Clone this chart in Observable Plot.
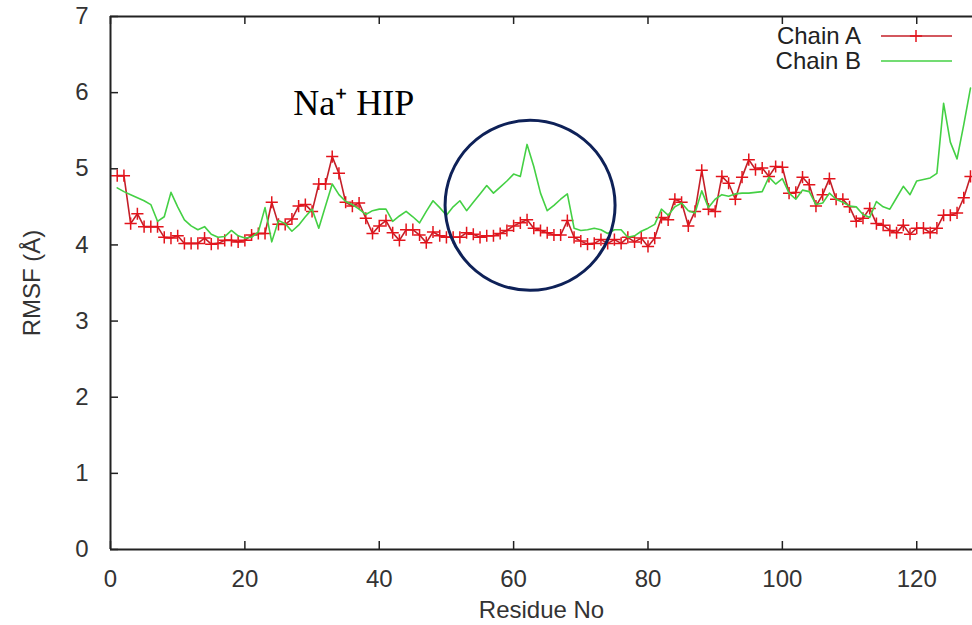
<!DOCTYPE html>
<html>
<head>
<meta charset="utf-8">
<script src="https://cdn.jsdelivr.net/npm/d3@7"></script>
<script src="https://cdn.jsdelivr.net/npm/@observablehq/plot@0.6"></script>
<style>
  html, body { margin: 0; padding: 0; background: #fff; }
  #chart { width: 972px; height: 625px; }
</style>
</head>
<body>
<div id="chart"></div>
<script>
// ---- data ----
const residues = d3.range(1, 129);
const chainA = [
  4.91, 4.91, 4.28, 4.41, 4.24, 4.24, 4.24, 4.10, 4.09, 4.12,
  4.02, 4.02, 4.02, 4.09, 4.01, 4.02, 4.06, 4.06, 4.04, 4.06,
  4.13, 4.15, 4.15, 4.56, 4.27, 4.27, 4.34, 4.51, 4.53, 4.44,
  4.80, 4.80, 5.16, 4.94, 4.56, 4.51, 4.55, 4.35, 4.15, 4.25,
  4.32, 4.16, 4.06, 4.20, 4.20, 4.13, 4.03, 4.17, 4.12, 4.10,
  4.10, 4.10, 4.16, 4.14, 4.10, 4.12, 4.12, 4.15, 4.19, 4.25,
  4.29, 4.33, 4.22, 4.19, 4.16, 4.13, 4.13, 4.32, 4.10, 4.05,
  4.01, 4.02, 4.07, 4.02, 4.07, 4.02, 4.10, 4.04, 4.09, 3.98,
  4.09, 4.36, 4.33, 4.60, 4.56, 4.25, 4.44, 4.98, 4.47, 4.44,
  4.90, 4.81, 4.60, 4.89, 5.12, 4.99, 5.01, 4.90, 5.03, 5.02,
  4.68, 4.69, 4.89, 4.79, 4.51, 4.66, 4.87, 4.60, 4.60, 4.50,
  4.31, 4.35, 4.48, 4.28, 4.26, 4.19, 4.16, 4.26, 4.14, 4.22,
  4.22, 4.16, 4.22, 4.39, 4.39, 4.42, 4.62, 4.90
];
const chainB = [
  4.75, 4.70, 4.66, 4.62, 4.58, 4.53, 4.31, 4.37, 4.69, 4.50,
  4.33, 4.25, 4.20, 4.24, 4.14, 4.10, 4.11, 4.19, 4.12, 4.09,
  4.10, 4.17, 4.49, 4.04, 4.32, 4.28, 4.18, 4.26, 4.37, 4.47,
  4.22, 4.51, 4.80, 4.66, 4.57, 4.53, 4.47, 4.40, 4.45, 4.47,
  4.47, 4.31, 4.38, 4.44, 4.37, 4.29, 4.44, 4.58, 4.49, 4.39,
  4.50, 4.58, 4.45, 4.56, 4.67, 4.78, 4.68, 4.76, 4.84, 4.93,
  4.90, 5.32, 5.03, 4.68, 4.45, 4.52, 4.60, 4.67, 4.22, 4.19,
  4.20, 4.22, 4.20, 4.15, 4.20, 4.20, 4.10, 4.12, 4.18, 4.22,
  4.27, 4.47, 4.39, 4.50, 4.55, 4.45, 4.42, 4.71, 4.49, 4.60,
  4.66, 4.64, 4.67, 4.68, 4.68, 4.69, 4.70, 4.89, 4.80, 4.87,
  4.68, 4.60, 4.72, 4.70, 4.53, 4.55, 4.68, 4.60, 4.56, 4.51,
  4.50, 4.40, 4.36, 4.57, 4.50, 4.47, 4.62, 4.77, 4.66, 4.84,
  4.86, 4.88, 4.94, 5.86, 5.35, 5.13, 5.58, 6.06
];
const seriesNames = ["Chain A", "Chain B"];
const xTicks = [0, 20, 40, 60, 80, 100, 120];
const yTicks = [0, 1, 2, 3, 4, 5, 6, 7];
const xLabel = "Residue No";
const yLabel = "RMSF (Å)";
const noteText = "Na⁺ HIP";

// ---- styling / layout ----
const W = 972, H = 625;
const mL = 110, mR = 0, mT = 16, mB = 76;
const innerW = W - mL - mR, innerH = H - mT - mB;
const frameColor = "#222";
const redLine = "#c41f28", redMark = "#e3141c", green = "#44d044", navy = "#0e2158";
const sans = "'Liberation Sans', Arial, sans-serif";
const fs = 24;

const dataA = residues.map((r, i) => ({r, v: chainA[i]}));
const dataB = residues.map((r, i) => ({r, v: chainB[i]}));
const note = [{x: 27.2, y: 5.86, text: noteText}];
const ring = [{x: 62.45, y: 4.52}];

const chart = Plot.plot({
  width: W, height: H,
  marginLeft: mL, marginRight: mR, marginTop: mT, marginBottom: mB,
  x: {domain: [0, 128.3]},
  y: {domain: [0, 7]},
  style: {fontFamily: sans, fontSize: fs + "px", background: "#fff", color: "#333"},
  marks: [
    Plot.axisX({ticks: xTicks, tickFormat: d => String(d), tickSize: 0, tickPadding: 20, label: null, fontSize: fs, fill: "#333"}),
    Plot.axisY({ticks: yTicks, tickFormat: d => String(d), tickSize: 0, tickPadding: 22, label: null, fontSize: fs, fill: "#333"}),
    Plot.tickX(xTicks, {x: d => d, insetTop: innerH - 8, stroke: frameColor, strokeWidth: 1.5}),
    Plot.tickX(xTicks, {x: d => d, insetBottom: innerH - 8, stroke: frameColor, strokeWidth: 1.5}),
    Plot.tickY(yTicks, {y: d => d, insetRight: innerW - 8, stroke: frameColor, strokeWidth: 1.5}),
    Plot.line(dataA, {x: "r", y: "v", stroke: redLine, strokeWidth: 1.6}),
    Plot.dot(dataA, {x: "r", y: "v", symbol: "plus", r: 4, stroke: redMark, strokeWidth: 1.5}),
    Plot.line(dataB, {x: "r", y: "v", stroke: green, strokeWidth: 1.6}),
    Plot.ruleX([0], {stroke: frameColor, strokeWidth: 2}),
    Plot.ruleY([0, 7], {stroke: frameColor, strokeWidth: 2}),
    Plot.dot(ring, {x: "x", y: "y", r: 85, stroke: navy, strokeWidth: 3, fill: "none"}),
    Plot.text(note, {x: "x", y: "y", text: "text", textAnchor: "start", lineAnchor: "middle",
      fontFamily: "'Liberation Serif', 'Times New Roman', serif", fontSize: 36, fill: "#000"}),
    Plot.text([xLabel], {frameAnchor: "bottom", dy: 61, lineAnchor: "middle", textAnchor: "middle", fontSize: fs, fill: "#333"}),
    Plot.text([yLabel], {frameAnchor: "left", dx: -78, rotate: -90, textAnchor: "middle", lineAnchor: "middle", fontSize: fs, fill: "#333"})
  ]
});

// legend (inside plot, top-right like the reference)
const svg = d3.select(chart);
const leg = svg.append("g").attr("font-family", sans).attr("font-size", fs).attr("fill", "#222");
const legColors = [redLine, green];
seriesNames.forEach((name, i) => {
  const cy = 36 + i * 25;
  leg.append("text").attr("x", 861).attr("y", cy).attr("dy", "0.35em")
    .attr("text-anchor", "end").text(name);
  leg.append("line").attr("x1", 881).attr("x2", 952).attr("y1", cy).attr("y2", cy)
    .attr("stroke", legColors[i]).attr("stroke-width", 1.6);
  if (i === 0) {
    leg.append("path").attr("d", d3.symbol(d3.symbolPlus, Math.PI * 16)())
      .attr("transform", `translate(916,${cy})`).attr("fill", "none")
      .attr("stroke", redMark).attr("stroke-width", 1.5);
  }
});

document.getElementById("chart").appendChild(chart);
</script>
</body>
</html>
